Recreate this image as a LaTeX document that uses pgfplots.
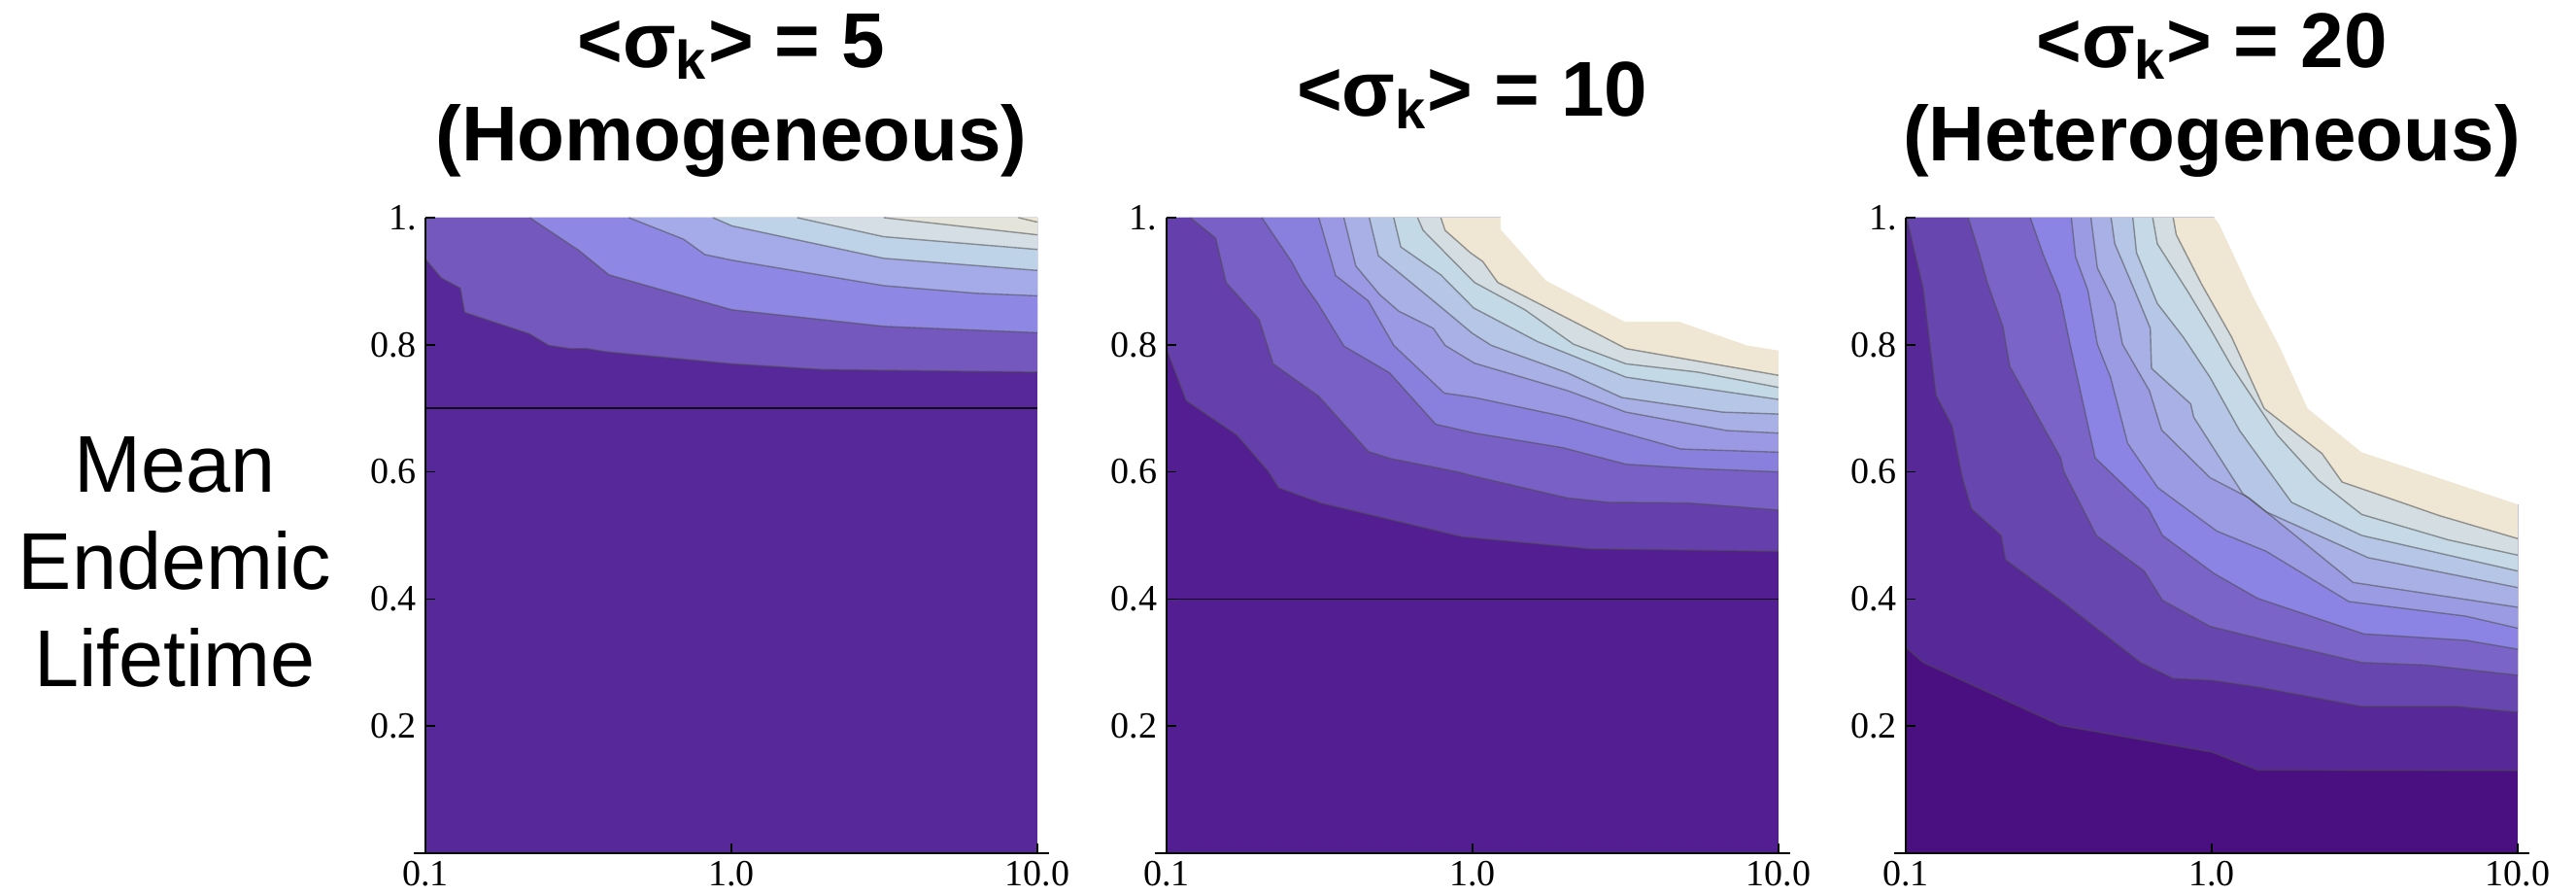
\documentclass[border=0pt]{standalone}
\usepackage{fontspec}
\setmainfont{Liberation Serif}
\newfontfamily\sansf{Liberation Sans}
\usepackage{pgfplots}
\usepackage{pgfplotstable}
\pgfplotsset{compat=1.18}

% panel 1 colours
\definecolor{pAa}{RGB}{87,40,154}
\definecolor{pAb}{RGB}{116,88,190}
\definecolor{pAc}{RGB}{142,136,228}
\definecolor{pAd}{RGB}{165,170,232}
\definecolor{pAe}{RGB}{190,210,232}
\definecolor{pAf}{RGB}{213,222,228}
\definecolor{pAg}{RGB}{228,228,218}
\definecolor{pAh}{RGB}{238,230,212}
% panel 2 colours
\definecolor{pBa}{RGB}{82,30,146}
\definecolor{pBb}{RGB}{101,64,172}
\definecolor{pBc}{RGB}{121,96,198}
\definecolor{pBd}{RGB}{137,128,222}
\definecolor{pBe}{RGB}{155,153,228}
\definecolor{pBf}{RGB}{168,176,230}
\definecolor{pBg}{RGB}{182,198,230}
\definecolor{pBh}{RGB}{196,217,230}
\definecolor{pBi}{RGB}{212,222,226}
\definecolor{pBj}{RGB}{239,230,212}
% panel 3 colours
\definecolor{pCa}{RGB}{74,16,130}
\definecolor{pCb}{RGB}{86,40,152}
\definecolor{pCc}{RGB}{104,70,176}
\definecolor{pCd}{RGB}{122,100,200}
\definecolor{pCe}{RGB}{140,132,228}
\definecolor{pCf}{RGB}{155,155,228}
\definecolor{pCg}{RGB}{168,176,230}
\definecolor{pCh}{RGB}{182,198,230}
\definecolor{pCi}{RGB}{197,218,230}
\definecolor{pCj}{RGB}{212,222,226}
\definecolor{pCk}{RGB}{239,230,212}

% ---------- panel 1 contour boundaries (x = log10 of parameter) ----------
\pgfplotstableread{
x y
-1 0.935
-0.948 0.905
-0.886 0.889
-0.872 0.851
-0.659 0.817
-0.597 0.799
-0.528 0.794
-0.473 0.794
-0.411 0.789
0.002 0.770
0.298 0.761
1 0.757
}\PAa
\pgfplotstableread{
x y
-0.659 1
-0.5 0.949
-0.4 0.910
-0.087 0.867
0.002 0.855
0.498 0.829
1 0.819
}\PAb
\pgfplotstableread{
x y
-0.335 1
-0.156 0.966
-0.087 0.942
0.002 0.933
0.498 0.893
0.8 0.881
1 0.877
}\PAc
\pgfplotstableread{
x y
-0.06 1
0.002 0.987
0.498 0.936
1 0.917
}\PAd
\pgfplotstableread{
x y
0.215 1
0.498 0.970
1 0.950
}\PAe
\pgfplotstableread{
x y
0.498 1
1 0.973
}\PAf
\pgfplotstableread{
x y
0.938 1
1 0.993
}\PAg

% ---------- panel 2 ----------
\pgfplotstableread{
x y
-1 0.794
-0.935 0.712
-0.770 0.658
-0.667 0.601
-0.633 0.575
-0.495 0.551
-0.034 0.498
0.385 0.479
1 0.475
}\PBa
\pgfplotstableread{
x y
-0.922 1
-0.839 0.968
-0.805 0.898
-0.697 0.840
-0.651 0.770
-0.502 0.719
-0.340 0.632
-0.268 0.621
-0.048 0.600
0.007 0.593
0.310 0.559
0.447 0.552
0.708 0.551
1 0.540
}\PBb
\pgfplotstableread{
x y
-0.688 1
-0.591 0.931
-0.554 0.898
-0.505 0.865
-0.420 0.798
-0.271 0.756
-0.120 0.675
0.007 0.661
0.296 0.638
0.502 0.612
0.736 0.605
1 0.600
}\PBc
\pgfplotstableread{
x y
-0.502 1
-0.447 0.909
-0.340 0.869
-0.257 0.799
-0.092 0.724
0.007 0.717
0.310 0.686
0.681 0.636
1 0.631
}\PBd
\pgfplotstableread{
x y
-0.420 1
-0.381 0.924
-0.303 0.879
-0.241 0.853
-0.128 0.826
-0.089 0.799
0.007 0.771
0.310 0.728
0.502 0.694
0.832 0.665
1 0.661
}\PBe
\pgfplotstableread{
x y
-0.337 1
-0.307 0.940
-0.241 0.914
-0.117 0.865
0.000 0.818
0.062 0.799
0.310 0.756
0.488 0.717
0.818 0.694
1 0.691
}\PBf
\pgfplotstableread{
x y
-0.257 1
-0.234 0.954
-0.103 0.910
0.004 0.858
0.213 0.805
0.502 0.749
1 0.714
}\PBg
\pgfplotstableread{
x y
-0.179 1
-0.161 0.980
0.007 0.898
0.172 0.855
0.330 0.801
0.502 0.770
0.736 0.757
1 0.733
}\PBh
\pgfplotstableread{
x y
-0.103 1
-0.089 0.980
-0.007 0.945
0.034 0.931
0.083 0.898
0.406 0.818
0.502 0.794
1 0.752
}\PBi
\pgfplotstableread{
x y
0.092 1
0.092 0.982
0.241 0.901
0.499 0.836
0.678 0.836
0.898 0.799
1 0.791
}\PBedge

% ---------- panel 3 ----------
\pgfplotstableread{
x y
-1 0.324
-0.943 0.300
-0.494 0.201
0.001 0.159
0.150 0.131
1 0.130
}\PCa
\pgfplotstableread{
x y
-0.997 1
-0.943 0.889
-0.901 0.721
-0.848 0.672
-0.816 0.593
-0.785 0.542
-0.688 0.500
-0.674 0.462
-0.494 0.398
-0.232 0.300
-0.126 0.275
0.001 0.272
0.157 0.261
0.490 0.231
0.802 0.231
1 0.222
}\PCb
\pgfplotstableread{
x y
-0.796 1
-0.763 0.949
-0.735 0.900
-0.683 0.829
-0.660 0.766
-0.494 0.622
-0.484 0.601
-0.377 0.500
-0.221 0.444
-0.161 0.398
-0.006 0.357
0.178 0.335
0.490 0.300
0.703 0.296
1 0.280
}\PCc
\pgfplotstableread{
x y
-0.593 1
-0.551 0.942
-0.497 0.879
-0.462 0.798
-0.381 0.622
-0.207 0.542
-0.161 0.500
0.008 0.440
0.150 0.401
0.497 0.345
0.830 0.335
1 0.321
}\PCd
\pgfplotstableread{
x y
-0.459 1
-0.445 0.938
-0.405 0.886
-0.374 0.801
-0.331 0.749
-0.275 0.645
-0.176 0.575
0.016 0.507
0.178 0.475
0.448 0.396
0.830 0.373
1 0.354
}\PCe
\pgfplotstableread{
x y
-0.395 1
-0.374 0.921
-0.317 0.865
-0.292 0.801
-0.204 0.728
-0.164 0.666
-0.006 0.591
0.122 0.559
0.462 0.426
1 0.387
}\PCf
\pgfplotstableread{
x y
-0.329 1
-0.317 0.959
-0.249 0.882
-0.201 0.826
-0.197 0.763
-0.069 0.707
-0.059 0.686
0.101 0.566
0.178 0.537
0.511 0.465
1 0.418
}\PCg
\pgfplotstableread{
x y
-0.258 1
-0.246 0.945
-0.178 0.865
-0.093 0.812
-0.006 0.749
0.091 0.665
0.261 0.552
0.490 0.500
1 0.444
}\PCh
\pgfplotstableread{
x y
-0.193 1
-0.178 0.959
-0.076 0.882
-0.006 0.826
0.065 0.766
0.214 0.658
0.348 0.587
0.490 0.533
0.773 0.493
1 0.469
}\PCi
\pgfplotstableread{
x y
-0.126 1
-0.116 0.973
-0.034 0.896
0.065 0.812
0.171 0.700
0.360 0.629
0.426 0.584
0.511 0.570
0.745 0.531
1 0.495
}\PCj
\pgfplotstableread{
x y
0.008 1
0.023 0.991
0.136 0.875
0.221 0.798
0.313 0.700
0.490 0.631
1 0.549
}\PCedge

\newcommand{\band}[2]{\addplot[fill=#1, draw=none] table {#2} -- (axis cs:1,1) -- (axis cs:-1,1) -- cycle;}
\newcommand{\contline}[1]{\addplot[draw=black!70, line width=0.35pt, draw opacity=0.55] table {#1};}
% white (no data) region: table, x where it meets the top, y where it meets the right edge
\newcommand{\blank}[3]{\addplot[fill=white, draw=none] table {#1}
   -- ([xshift=3pt]axis cs:1,#3) -- ([xshift=3pt,yshift=3pt]axis cs:1,1)
   -- ([yshift=3pt]axis cs:#2,1) -- cycle;}

\pgfplotsset{
  panel/.style={
    scale only axis, width=157.5pt, height=163.5pt,
    anchor=south west, clip=false,
    xmin=-1, xmax=1, ymin=0, ymax=1,
    axis lines=left,
    axis line style={-, line width=0.5pt, black},
    x axis line style={shorten >=-3pt, shorten <=-3pt},
    xtick={-1,0,1}, xticklabels={0.1,1.0,10.0},
    ytick={0.2,0.4,0.6,0.8,1}, yticklabels={0.2,0.4,0.6,0.8,1.},
    tick align=inside, major tick length=2.5pt,
    tick style={black, line width=0.4pt},
    ticklabel style={font=\fontsize{9.5}{10}\selectfont},
    yticklabel style={xshift=1.2pt},
    xticklabel style={yshift=1.5pt},
    axis on top,
    title style={at={(0.5,1)}, anchor=center, yshift=25.5pt, align=center,
      font=\sansf\bfseries\fontsize{20}{24}\selectfont},
  }
}

\begin{document}
\begin{tikzpicture}
\useasboundingbox (0,0) rectangle (663pt,230pt);

\node[align=center, font=\sansf\fontsize{20.7}{25}\selectfont] at (45pt,85.5pt)
  {Mean\\Endemic\\Lifetime};

% ---------------- Panel 1 ----------------
\begin{axis}[panel, at={(109.5pt,10.5pt)},
  axis background/.style={fill=pAa},
  title={<σ\textsubscript{k}> = 5\\(Homogeneous)}]
\band{pAb}{\PAa}
\band{pAc}{\PAb}
\band{pAd}{\PAc}
\band{pAe}{\PAd}
\band{pAf}{\PAe}
\band{pAg}{\PAf}
\band{pAh}{\PAg}
\contline{\PAa}\contline{\PAb}\contline{\PAc}\contline{\PAd}\contline{\PAe}\contline{\PAf}\contline{\PAg}
\addplot[draw=black, line width=0.35pt, draw opacity=0.8] coordinates {(-1,0.7) (1,0.7)};
\end{axis}

% ---------------- Panel 2 ----------------
\begin{axis}[panel, at={(300.2pt,10.5pt)},
  axis background/.style={fill=pBa},
  title={<σ\textsubscript{k}> = 10}]
\band{pBb}{\PBa}
\band{pBc}{\PBb}
\band{pBd}{\PBc}
\band{pBe}{\PBd}
\band{pBf}{\PBe}
\band{pBg}{\PBf}
\band{pBh}{\PBg}
\band{pBi}{\PBh}
\band{pBj}{\PBi}
\blank{\PBedge}{0.092}{0.791}
\contline{\PBa}\contline{\PBb}\contline{\PBc}\contline{\PBd}\contline{\PBe}\contline{\PBf}\contline{\PBg}\contline{\PBh}\contline{\PBi}
\addplot[draw=black, line width=0.35pt, draw opacity=0.8] coordinates {(-1,0.4) (1,0.4)};
\end{axis}

% ---------------- Panel 3 ----------------
\begin{axis}[panel, at={(490.5pt,10.5pt)},
  axis background/.style={fill=pCa},
  title={<σ\textsubscript{k}> = 20\\(Heterogeneous)}]
\band{pCb}{\PCa}
\band{pCc}{\PCb}
\band{pCd}{\PCc}
\band{pCe}{\PCd}
\band{pCf}{\PCe}
\band{pCg}{\PCf}
\band{pCh}{\PCg}
\band{pCi}{\PCh}
\band{pCj}{\PCi}
\band{pCk}{\PCj}
\blank{\PCedge}{0.008}{0.549}
\contline{\PCa}\contline{\PCb}\contline{\PCc}\contline{\PCd}\contline{\PCe}\contline{\PCf}\contline{\PCg}\contline{\PCh}\contline{\PCi}\contline{\PCj}
\end{axis}
\end{tikzpicture}
\end{document}
